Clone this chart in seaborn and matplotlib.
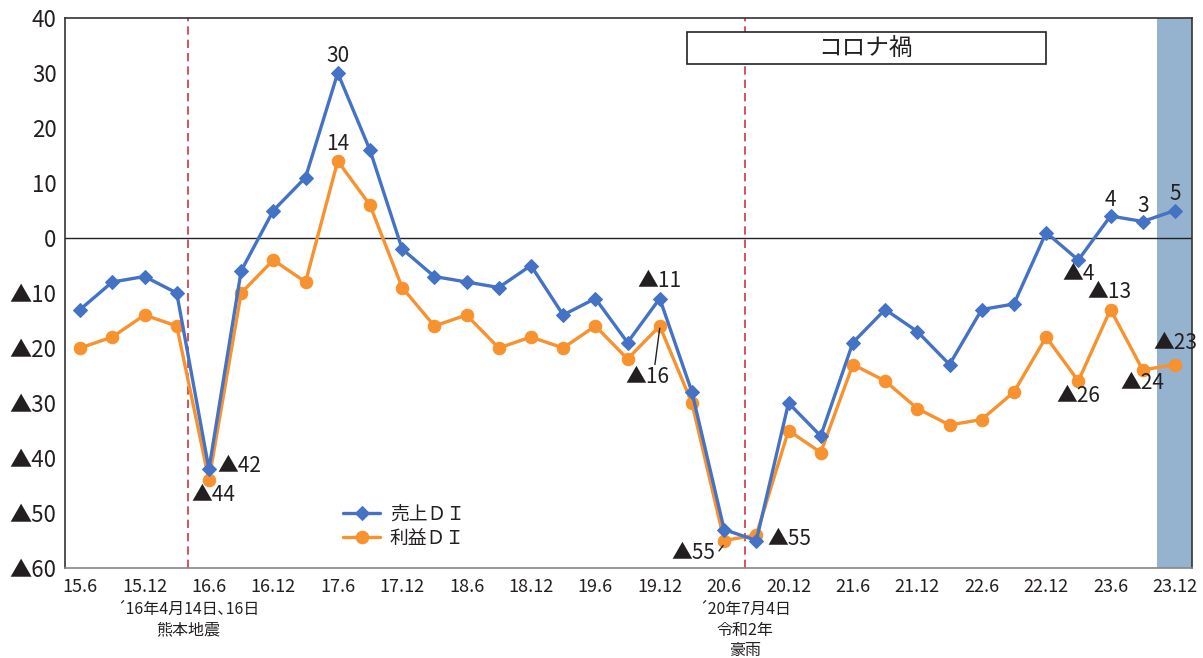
import matplotlib
matplotlib.use("Agg")
import matplotlib.pyplot as plt
import seaborn as sns
import numpy as np
import pandas as pd
from matplotlib.patches import Rectangle

sns.set_theme(style="white")
plt.rcParams["font.family"] = ["Noto Sans CJK JP", "DejaVu Sans"]

# Quarterly survey periods (year.month)
periods = ["15.6", "15.9", "15.12",
           "16.3", "16.6", "16.9", "16.12",
           "17.3", "17.6", "17.9", "17.12",
           "18.3", "18.6", "18.9", "18.12",
           "19.3", "19.6", "19.9", "19.12",
           "20.3", "20.6", "20.9", "20.12",
           "21.3", "21.6", "21.9", "21.12",
           "22.3", "22.6", "22.9", "22.12",
           "23.3", "23.6", "23.9", "23.12"]

sales_di = [-13, -8, -7, -10, -42, -6, 5, 11, 30, 16, -2, -7, -8, -9, -5, -14,
            -11, -19, -11, -28, -53, -55, -30, -36, -19, -13, -17, -23, -13, -12,
            1, -4, 4, 3, 5]
profit_di = [-20, -18, -14, -16, -44, -10, -4, -8, 14, 6, -9, -16, -14, -20, -18, -20,
             -16, -22, -16, -30, -55, -54, -35, -39, -23, -26, -31, -34, -33, -28,
             -18, -26, -13, -24, -23]

sales_name = "売上ＤＩ"
profit_name = "利益ＤＩ"
event_labels = ["´16年4月14日､16日\n熊本地震", "´20年7月4日\n令和2年\n豪雨"]
event_pos = [3.35, 20.65]
covid_label = "コロナ禍"

BLUE = "#4472C4"
ORANGE = "#F7922F"
TXT = "#231F20"

df = pd.DataFrame({"idx": np.arange(len(periods)), "sales": sales_di, "profit": profit_di})

fig = plt.figure(figsize=(12.03, 6.58), dpi=100)
ax = fig.add_axes([65 / 1203, 90 / 658, 1127 / 1203, 550 / 658])

# latest quarter highlight
ax.axvspan(33.45, 34.6, color="#95B2CE", zorder=0, lw=0)

sns.lineplot(data=df, x="idx", y="sales", ax=ax, color=BLUE, marker="D",
             markersize=7, markeredgecolor=BLUE, linewidth=2.4, label=sales_name, zorder=4)
sns.lineplot(data=df, x="idx", y="profit", ax=ax, color=ORANGE, marker="o",
             markersize=9, markeredgecolor=ORANGE, linewidth=2.4, label=profit_name, zorder=3)

ax.axhline(0, color="#222222", lw=1.0, zorder=2)
for p in event_pos:
    ax.axvline(p, color="#D23343", lw=1.2, ls=(0, (5, 3)), zorder=1)

ax.set_xlim(-0.47, 34.53)
ax.set_ylim(-60, 40)
ax.set_xlabel("")
ax.set_ylabel("")

ax.set_xticks(np.arange(0, len(periods), 2))
ax.set_xticklabels(periods[::2], fontsize=13, color=TXT)
yt = np.arange(-60, 41, 10)
ax.set_yticks(yt)
ax.set_yticklabels([f"▲{-v}" if v < 0 else f"{v}" for v in yt], fontsize=16, color=TXT)
ax.tick_params(axis="y", direction="in", length=5, width=1, color="#555555", pad=6)
ax.tick_params(axis="x", length=0, pad=7)
for s in ax.spines.values():
    s.set_color("#333333")
    s.set_linewidth(1.2)
ax.spines["bottom"].set_color("#888888")

# event notes under the axis
for p, t in zip(event_pos, event_labels):
    ax.annotate(t, xy=(p, 0), xycoords=("data", "axes fraction"), xytext=(0, -23.5),
                textcoords="offset points", ha="center", va="top", fontsize=11.5,
                color=TXT, linespacing=1.3)

# COVID-19 period box
ax.add_patch(Rectangle((18.85, 31.6), 11.15, 5.85, facecolor="white",
                       edgecolor="#222222", lw=1.2, zorder=5))
ax.text(24.4, 34.5, covid_label, ha="center", va="center", fontsize=17, color=TXT, zorder=6)

# value labels: (series, index, offset in points, horizontal alignment)
series = {"s": sales_di, "p": profit_di}
labels = [
    ("s", 8, (0, 12), "center"),
    ("p", 8, (0, 12), "center"),
    ("s", 4, (6, 2), "left"),
    ("p", 4, (3, -11), "center"),
    ("s", 18, (0, 12.5), "center"),
    ("p", 18, (-9, -37), "center"),
    ("p", 20, (-22, -9), "center"),
    ("s", 21, (24, 1), "center"),
    ("s", 31, (0, -10), "center"),
    ("p", 31, (0, -11), "center"),
    ("p", 32, (-1, 12.5), "center"),
    ("s", 32, (0, 11.5), "center"),
    ("s", 33, (0, 11.5), "center"),
    ("s", 34, (0, 12), "center"),
    ("p", 33, (0, -9.5), "center"),
    ("p", 34, (0, 15.5), "center"),
]
for key, i, off, ha in labels:
    v = series[key][i]
    txt = f"▲{-v}" if v < 0 else f"{v}"
    ax.annotate(txt, xy=(i, v), xytext=off, textcoords="offset points",
                ha=ha, va="center", fontsize=15, color=TXT, zorder=7,
                annotation_clip=False)

# leader lines for crowded labels
ax.annotate("", xy=(18, profit_di[18] - 0.4), xytext=(17.85, -23.0),
            arrowprops=dict(arrowstyle="-", color="#222222", lw=1.0, shrinkA=0, shrinkB=0))
ax.annotate("", xy=(19.97, profit_di[20] - 0.9), xytext=(19.84, -56.9),
            arrowprops=dict(arrowstyle="-", color="#222222", lw=1.0, shrinkA=0, shrinkB=0))

leg = ax.legend(loc="upper left", bbox_to_anchor=(0.24, 0.13), frameon=False,
                fontsize=13.5, handlelength=2.0, handletextpad=0.5, labelspacing=0.15,
                borderaxespad=0)
for t in leg.get_texts():
    t.set_color(TXT)

fig.savefig("out.png", dpi=100)
